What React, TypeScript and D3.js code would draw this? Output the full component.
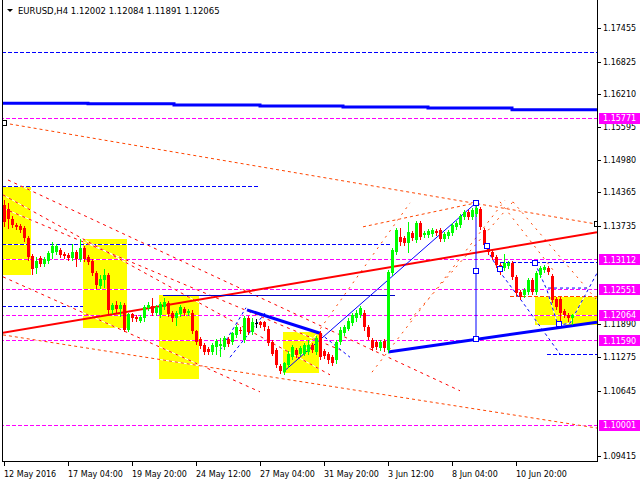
import React from 'react';
import * as d3 from 'd3';

// EURUSD H4 bars, first bar 12 May 2016 12:00 -> [open, high, low, close]
const candles: number[][] = [
  [1.1413, 1.1422, 1.1374, 1.1381], [1.1405, 1.1417, 1.137, 1.1387], [1.1387, 1.1392, 1.1372, 1.1376],
  [1.1376, 1.1379, 1.1368, 1.1372], [1.1374, 1.1378, 1.1362, 1.1366], [1.137, 1.1374, 1.1345, 1.1351],
  [1.1351, 1.1355, 1.131, 1.1315], [1.1317, 1.1321, 1.1283, 1.1293], [1.1295, 1.1315, 1.1285, 1.1308],
  [1.1313, 1.1317, 1.1298, 1.1302], [1.1302, 1.1315, 1.1298, 1.1311], [1.1308, 1.1327, 1.1304, 1.1323],
  [1.1323, 1.1344, 1.1313, 1.1336], [1.1325, 1.134, 1.1321, 1.1336], [1.1328, 1.1332, 1.1315, 1.1319],
  [1.1321, 1.1325, 1.1313, 1.1317], [1.1319, 1.1323, 1.131, 1.1313], [1.1313, 1.134, 1.131, 1.1325],
  [1.1325, 1.1328, 1.1298, 1.1311], [1.1311, 1.1349, 1.1308, 1.1332], [1.1332, 1.1336, 1.1308, 1.1311],
  [1.1315, 1.1319, 1.1302, 1.1306], [1.1308, 1.1311, 1.1281, 1.1285], [1.1285, 1.1289, 1.1257, 1.1262],
  [1.1261, 1.1281, 1.1257, 1.1274], [1.1272, 1.1293, 1.1259, 1.1281], [1.1281, 1.1285, 1.1211, 1.1215],
  [1.1215, 1.1228, 1.1211, 1.1225], [1.1225, 1.1232, 1.121, 1.1217], [1.1217, 1.123, 1.1204, 1.1225],
  [1.1225, 1.1228, 1.1176, 1.1179], [1.1179, 1.1211, 1.1176, 1.1208], [1.1208, 1.1211, 1.1196, 1.12],
  [1.1202, 1.1206, 1.1195, 1.1198], [1.1196, 1.1206, 1.1193, 1.1202], [1.12, 1.1225, 1.1196, 1.1221],
  [1.1219, 1.123, 1.1215, 1.1225], [1.1223, 1.1238, 1.1206, 1.121], [1.121, 1.1225, 1.1206, 1.1221],
  [1.1206, 1.123, 1.1202, 1.1227], [1.1221, 1.1238, 1.1217, 1.123], [1.1228, 1.1232, 1.1204, 1.1208],
  [1.121, 1.1213, 1.1196, 1.12], [1.12, 1.1213, 1.1187, 1.121], [1.1208, 1.1225, 1.1204, 1.1221],
  [1.1217, 1.1221, 1.1206, 1.121], [1.121, 1.1217, 1.1206, 1.1213], [1.1211, 1.1215, 1.1172, 1.1176],
  [1.1176, 1.1179, 1.1151, 1.1155], [1.1161, 1.1165, 1.1144, 1.1148], [1.115, 1.1153, 1.1133, 1.1136],
  [1.1142, 1.1146, 1.1133, 1.1136], [1.1136, 1.1153, 1.1133, 1.115], [1.1146, 1.1161, 1.1134, 1.1157],
  [1.1148, 1.1163, 1.1129, 1.1151], [1.1146, 1.1166, 1.1142, 1.1163], [1.1161, 1.1165, 1.1148, 1.1151],
  [1.1155, 1.1174, 1.1151, 1.1172], [1.1168, 1.1187, 1.1165, 1.1183], [1.1179, 1.1183, 1.1172, 1.1176],
  [1.1159, 1.1204, 1.1155, 1.12], [1.12, 1.1204, 1.117, 1.1174], [1.1174, 1.12, 1.117, 1.1193],
  [1.1192, 1.1198, 1.1183, 1.1192], [1.1193, 1.1196, 1.1183, 1.1187], [1.1193, 1.1196, 1.1179, 1.1183],
  [1.1181, 1.1185, 1.115, 1.1153], [1.1155, 1.1159, 1.1131, 1.1134], [1.114, 1.1144, 1.1108, 1.1112],
  [1.111, 1.1114, 1.1097, 1.1101], [1.1099, 1.1119, 1.1095, 1.1116], [1.1112, 1.1138, 1.1108, 1.1134],
  [1.1127, 1.115, 1.1123, 1.1146], [1.114, 1.1144, 1.1127, 1.1131], [1.1134, 1.1148, 1.1131, 1.1144],
  [1.1134, 1.1153, 1.1131, 1.115], [1.1136, 1.1159, 1.1133, 1.115], [1.115, 1.1153, 1.1136, 1.114],
  [1.1136, 1.1166, 1.1133, 1.1163], [1.1172, 1.1176, 1.1123, 1.1127], [1.1138, 1.1142, 1.1125, 1.1129],
  [1.1133, 1.1136, 1.1117, 1.1121], [1.1127, 1.1131, 1.1112, 1.1117], [1.1121, 1.1159, 1.1117, 1.1155],
  [1.1155, 1.1183, 1.1151, 1.1179], [1.1172, 1.1187, 1.1168, 1.1183], [1.1181, 1.12, 1.1178, 1.1196],
  [1.1191, 1.121, 1.1187, 1.1206], [1.12, 1.1215, 1.1196, 1.1211], [1.1206, 1.1223, 1.1202, 1.1219],
  [1.1211, 1.1215, 1.1179, 1.1183], [1.1183, 1.1187, 1.1161, 1.1165], [1.1159, 1.1163, 1.114, 1.1144],
  [1.1155, 1.1159, 1.1142, 1.1146], [1.1144, 1.1159, 1.114, 1.1155], [1.1157, 1.1161, 1.1138, 1.1144],
  [1.114, 1.1291, 1.1136, 1.1287], [1.1285, 1.1332, 1.1281, 1.1328], [1.1325, 1.137, 1.1321, 1.1366],
  [1.1353, 1.137, 1.1338, 1.1344], [1.1351, 1.1355, 1.1338, 1.1342], [1.1342, 1.1381, 1.1325, 1.1362],
  [1.1361, 1.1364, 1.1347, 1.1351], [1.1347, 1.1383, 1.1344, 1.1379], [1.1379, 1.1383, 1.1349, 1.1353],
  [1.1357, 1.1364, 1.1353, 1.1361], [1.1357, 1.1368, 1.1353, 1.1364], [1.1359, 1.137, 1.1355, 1.1366],
  [1.1364, 1.1368, 1.1357, 1.1361], [1.1366, 1.137, 1.1345, 1.1349], [1.1349, 1.1362, 1.1345, 1.1359],
  [1.1355, 1.1366, 1.1351, 1.1362], [1.1361, 1.1379, 1.1357, 1.1376], [1.1372, 1.1383, 1.1368, 1.1379],
  [1.1376, 1.1396, 1.1372, 1.1392], [1.1391, 1.1404, 1.1387, 1.14], [1.14, 1.1404, 1.1387, 1.1391],
  [1.1391, 1.1407, 1.1387, 1.1404], [1.1396, 1.1417, 1.1392, 1.1407], [1.1405, 1.1409, 1.1368, 1.1372],
  [1.1366, 1.137, 1.1334, 1.1338], [1.1338, 1.1342, 1.1321, 1.1325], [1.1325, 1.1328, 1.1311, 1.1315],
  [1.1315, 1.1319, 1.1296, 1.13], [1.13, 1.1304, 1.1283, 1.1287], [1.1295, 1.1321, 1.1291, 1.1304],
  [1.1298, 1.1308, 1.1295, 1.1304], [1.1304, 1.1308, 1.1274, 1.1278], [1.1278, 1.1281, 1.1244, 1.1247],
  [1.1249, 1.1253, 1.1236, 1.124], [1.1244, 1.1257, 1.124, 1.1253], [1.1249, 1.1276, 1.1245, 1.1272],
  [1.1272, 1.1276, 1.1245, 1.1249], [1.1249, 1.1289, 1.1245, 1.1285], [1.1281, 1.1298, 1.1278, 1.1295],
  [1.1291, 1.13, 1.1287, 1.1296], [1.1295, 1.1298, 1.1283, 1.1287], [1.1279, 1.1283, 1.123, 1.1234],
  [1.1236, 1.124, 1.1217, 1.1221], [1.1236, 1.124, 1.1187, 1.1211], [1.1213, 1.1217, 1.1202, 1.1206],
  [1.1206, 1.121, 1.1196, 1.12], [1.12002, 1.12084, 1.11891, 1.12065],
];

const timeLabels = ['12 May 2016', '17 May 04:00', '19 May 20:00', '24 May 12:00', '27 May 04:00',
  '31 May 20:00', '3 Jun 12:00', '8 Jun 04:00', '10 Jun 20:00'];
const timeLabelBars = [0, 16, 32, 48, 64, 80, 96, 112, 128];
const priceTicks = [1.17455, 1.16825, 1.1621, 1.15595, 1.1498, 1.14365, 1.13735, 1.1189, 1.11275, 1.10645, 1.09415];
const markedLevels = [1.15771, 1.13112, 1.12551, 1.12064, 1.1159, 1.10001];

// drawn objects, in [bar, price]
const zones = [[-0.25, 6.75, 1.1447, 1.1281], [19.75, 30.75, 1.1349, 1.1182], [38.75, 48.75, 1.1244, 1.1086],
  [69.75, 78.75, 1.1174, 1.1097], [132.75, 148.25, 1.124, 1.1187]];
const blueLevels = [[1.17, -0.5, 148.25], [1.1449, -0.5, 64], [1.134, -0.5, 96.5], [1.1223, -0.5, 19.75],
  [1.1306, 124, 148.25], [1.1133, 135.75, 148.25]];
const orangeLevels = [[1.1242, 126.5, 148.25]];
const baseLine = [[39.75, 1.1244], [97.75, 1.1244]];
const maBreaks = [-1, 21, 42.5, 64, 84.75, 106, 127, 148.25];
const maValues = [1.1604, 1.1603, 1.1601, 1.1599, 1.1597, 1.1595, 1.1592];
const redFan = [
  [[1, 1.146], [114, 1.1064]], [[-0.25, 1.1432], [81.5, 1.1094]],
  [[-0.25, 1.1407], [85.25, 1.1137]], [[-0.25, 1.1278], [64, 1.1062]],
];
const orangeLines = [
  [[0, 1.1567], [148.25, 1.1377]], [[89.75, 1.1372], [118, 1.1417]], [[-0.25, 1.1169], [148.25, 1.0994]],
];
const orangeFan = [
  [[74, 1.1127], [101.5, 1.1417]], [[92, 1.1099], [125.25, 1.1422]], [[101.5, 1.1197], [127.25, 1.1419]],
  [[124, 1.1419], [137.25, 1.1291]], [[127.25, 1.1419], [148.25, 1.1234]],
];
const redTrend = [[-1, 1.1172], [148.25, 1.1362]];
const thickBlue = [[[60.75, 1.1216], [79, 1.1172]], [[96, 1.1137], [148.25, 1.1193]]];
const thinBlue = [[[69.75, 1.1099], [118, 1.1417]], [[118, 1.1417], [118, 1.1161]]];
const blueDashed = [
  [[120.75, 1.1329], [124, 1.1287], [129.5, 1.1232], [139, 1.1133]],
  [[132.75, 1.1304], [135.75, 1.1253], [138.5, 1.1187], [141.5, 1.1191], [148.25, 1.1285]],
  [[136, 1.1257], [146.5, 1.1257]],
  [[54, 1.114], [60.5, 1.122]], [[56.5, 1.1127], [65.25, 1.121]], [[79, 1.1172], [86.5, 1.1127]],
];
const blackMarks = [[0, 1.1567], [148.25, 1.1377]];
const blueMarks = [[118, 1.1417], [118, 1.1289], [118, 1.1161], [120.75, 1.1336], [124, 1.1293],
  [132.75, 1.1304], [138.75, 1.1189]];
const lastBar = [1.12002, 1.12084, 1.11891, 1.12065];

export default function App() {
  const xs = d3.scaleLinear().domain([0, 142]).range([4, 572]);
  const ys = d3.scaleLinear().domain([1.09415, 1.17455]).range([456, 28]);
  const line = d3.line<number[]>().x((d) => xs(d[0])).y((d) => ys(d[1]));
  const step = d3.line<number[]>().x((d) => xs(d[0])).y((d) => ys(d[1])).curve(d3.curveStepAfter);
  const px = (v: number) => Math.round(v) + 0.5;
  const font = "'DejaVu Sans', sans-serif";

  const maPts = maValues.map((v, i) => [maBreaks[i], v]).concat([[maBreaks[7], maValues[6]]]);

  // dashed objects get a white pen under them like the terminal does
  const dashed = (pts: number[][], color: string, dash: string, key: string) => (
    <g key={key}>
      <path d={line(pts) || ''} stroke="#fff" strokeWidth={1} fill="none" />
      <path d={line(pts) || ''} stroke={color} strokeWidth={1} strokeDasharray={dash} fill="none" />
    </g>
  );
  const hLevel = (p: number, a: number, b: number, color: string, key: string) => (
    <g key={key}>
      <line x1={xs(a)} x2={xs(b)} y1={px(ys(p))} y2={px(ys(p))} stroke="#fff" />
      <line x1={xs(a)} x2={xs(b)} y1={px(ys(p))} y2={px(ys(p))} stroke={color} strokeDasharray="4,2" />
    </g>
  );

  return (
    <svg width={640} height={480} style={{ position: 'fixed', left: 0, top: 0, background: '#fff' }}
      fontFamily={font} fontSize={8}>
      <defs>
        <clipPath id="plot"><rect x={3} y={0} width={594} height={461} /></clipPath>
      </defs>
      <rect x={0} y={0} width={640} height={480} fill="#fff" />
      <g clipPath="url(#plot)">
        {zones.map((z, i) => (
          <rect key={'z' + i} x={Math.round(xs(z[0]))} y={Math.round(ys(z[2]))}
            width={Math.round(xs(z[1]) - xs(z[0]))} height={Math.round(ys(z[3]) - ys(z[2]))} fill="#ffff00" />
        ))}
        {markedLevels.map((p, i) => hLevel(p, -1, 149, '#ff00ff', 'm' + i))}
        {blueLevels.map((l, i) => hLevel(l[0], l[1], l[2], '#0000ff', 'b' + i))}
        {orangeLevels.map((l, i) => hLevel(l[0], l[1], l[2], '#ff4500', 'o' + i))}
        {redFan.map((l, i) => dashed(l, '#ff0000', '3,4', 'rf' + i))}
        {orangeLines.map((l, i) => dashed(l, '#ff4500', '3,3', 'ol' + i))}
        {orangeFan.map((l, i) => dashed(l, '#ff4500', '2,5', 'of' + i))}
        {blueDashed.map((l, i) => dashed(l, '#0000ff', '3,3', 'bd' + i))}
        <path d={step(maPts) || ''} stroke="#0000ff" strokeWidth={3} fill="none" />
        <path d={line(redTrend) || ''} stroke="#ff0000" strokeWidth={2} fill="none" />
        <line x1={xs(baseLine[0][0])} x2={xs(baseLine[1][0])} y1={px(ys(baseLine[0][1]))}
          y2={px(ys(baseLine[1][1]))} stroke="#0000c8" />
        {thinBlue.map((l, i) => (
          <path key={'tb' + i} d={line(l) || ''} stroke="#0000ff" strokeWidth={1} fill="none" />
        ))}
        {thickBlue.map((l, i) => (
          <path key={'kb' + i} d={line(l) || ''} stroke="#0000ff" strokeWidth={3} fill="none" />
        ))}
        {candles.map((c, i) => {
          const [o, h, l, cl] = c;
          const x = Math.round(xs(i));
          const color = cl > o ? '#00ff00' : cl < o ? '#ff0000' : '#000000';
          const top = Math.round(ys(Math.max(o, cl)));
          const bot = Math.round(ys(Math.min(o, cl)));
          return (
            <g key={'c' + i}>
              <line x1={x + 0.5} x2={x + 0.5} y1={Math.round(ys(h))} y2={Math.round(ys(l)) + 1} stroke={color} />
              <rect x={x - 1} y={top} width={3} height={Math.max(1, bot - top)} fill={color} />
            </g>
          );
        })}
        {blackMarks.map((m, i) => (
          <rect key={'k' + i} x={px(xs(m[0])) - 3} y={px(ys(m[1])) - 3} width={5} height={5}
            fill="#fff" stroke="#000" />
        ))}
        {blueMarks.map((m, i) => (
          <rect key={'q' + i} x={px(xs(m[0])) - 3} y={px(ys(m[1])) - 3} width={5} height={5}
            fill="#fff" stroke="#0000ff" />
        ))}
      </g>

      {/* frame */}
      <line x1={2.5} x2={2.5} y1={0} y2={461} stroke="#000" />
      <line x1={597.5} x2={597.5} y1={0} y2={461} stroke="#000" />
      <line x1={2} x2={598} y1={461.5} y2={461.5} stroke="#000" />

      {/* price axis */}
      {priceTicks.map((p) => (
        <g key={'pt' + p}>
          <line x1={598} x2={601} y1={px(ys(p))} y2={px(ys(p))} stroke="#000" />
          <text x={603} y={ys(p) + 3} fill="#000">{p.toFixed(5)}</text>
        </g>
      ))}
      {markedLevels.map((p) => (
        <g key={'ml' + p}>
          <rect x={599} y={Math.round(ys(p)) - 5} width={41} height={11} fill="#ff00ff" />
          <text x={603} y={ys(p) + 3.5} fill="#fff">{p.toFixed(5)}</text>
        </g>
      ))}

      {/* time axis */}
      {timeLabels.map((t, i) => (
        <g key={t}>
          <line x1={px(xs(timeLabelBars[i]))} x2={px(xs(timeLabelBars[i]))} y1={462} y2={466} stroke="#000" />
          <text x={xs(timeLabelBars[i])} y={477} fill="#000">{t}</text>
        </g>
      ))}

      {/* title */}
      <polygon points="7,9 13,9 10,12" fill="#000" />
      <text x={18} y={14} fill="#000" fontSize={8.5}>
        {'EURUSD,H4  ' + lastBar.map((v) => v.toFixed(5)).join(' ')}
      </text>
    </svg>
  );
}
